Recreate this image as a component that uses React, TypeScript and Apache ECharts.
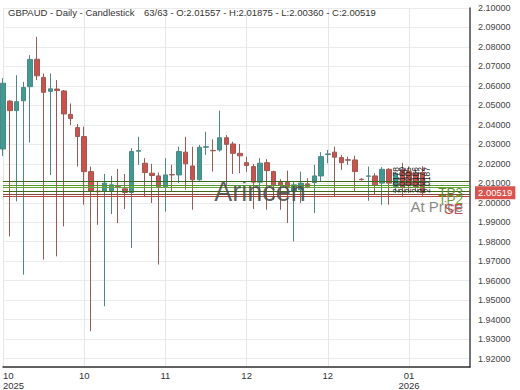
import React, { useEffect, useRef } from "react";
import * as echarts from "echarts";

const DATES = [
  "2025-10-09","2025-10-10","2025-10-13","2025-10-14","2025-10-15","2025-10-16","2025-10-17","2025-10-20","2025-10-21","2025-10-22",
  "2025-10-23","2025-10-24","2025-10-27","2025-10-28","2025-10-29","2025-10-30","2025-10-31","2025-11-03","2025-11-04","2025-11-05",
  "2025-11-06","2025-11-07","2025-11-10","2025-11-11","2025-11-12","2025-11-13","2025-11-14","2025-11-17","2025-11-18","2025-11-19",
  "2025-11-20","2025-11-21","2025-11-24","2025-11-25","2025-11-26","2025-11-27","2025-11-28","2025-12-01","2025-12-02","2025-12-03",
  "2025-12-04","2025-12-05","2025-12-08","2025-12-09","2025-12-10","2025-12-11","2025-12-12","2025-12-15","2025-12-16","2025-12-17",
  "2025-12-18","2025-12-19","2025-12-22","2025-12-23","2025-12-24","2025-12-25","2025-12-26","2025-12-29","2025-12-30","2025-12-31",
  "2026-01-01","2026-01-02","2026-01-05",
];
const EMPTY_SLOTS = ["", "", "", "", "", "", ""];

const OPEN = [
  2.0276, 2.0522, 2.0473, 2.0524, 2.0596, 2.0737, 2.0644, 2.0572, 2.0584, 2.0574,
  2.0454, 2.0386, 2.0340, 2.0160, 2.0060, 2.0061, 2.0063, 2.0088, 2.0072, 2.0053,
  2.0265, 2.0203, 2.0152, 2.0138, 2.0083, 2.0145, 2.0143, 2.0260, 2.0189, 2.0118,
  2.0285, 2.0269, 2.0271, 2.0334, 2.0302, 2.0254, 2.0206, 2.0186, 2.0106, 2.0206,
  2.0160, 2.0104, 2.0104, 2.0058, 2.0067, 2.0097, 2.0104, 2.0138, 2.0248, 2.0260,
  2.0232, 2.0221, 2.0220, 2.0121, 2.0136, 2.0138, 2.0101, 2.0172, 2.0083, 2.0170,
  2.0160, 2.0152, 2.01557,
];
const CLOSE = [
  2.0614, 2.0473, 2.0519, 2.0592, 2.0736, 2.0652, 2.0567, 2.0585, 2.0577, 2.0456,
  2.0432, 2.0340, 2.0160, 2.0061, 2.0057, 2.0101, 2.0092, 2.0083, 2.0053, 2.0263,
  2.0268, 2.0155, 2.0140, 2.0083, 2.0143, 2.0143, 2.0263, 2.0200, 2.0118, 2.0285,
  2.0288, 2.0267, 2.0334, 2.0300, 2.0254, 2.0241, 2.0191, 2.0106, 2.0203, 2.0165,
  2.0092, 2.0092, 2.0083, 2.0092, 2.0101, 2.0083, 2.0138, 2.0237, 2.0251, 2.0234,
  2.0206, 2.0219, 2.0160, 2.0119, 2.0138, 2.0092, 2.0172, 2.0101, 2.0152, 2.0078,
  2.0090, 2.0083, 2.00519,
];
const LOW = [
  2.0240, 1.9827, 2.0007, 1.9631, 2.0309, 2.0630, 1.9708, 2.0143, 1.9725, 1.9879,
  2.0399, 2.0186, 1.9990, 1.9341, 1.9887, 1.9469, 1.9942, 1.9896, 1.9968, 1.9768,
  2.0195, 2.0032, 1.9999, 1.9683, 1.9955, 2.0058, 2.0101, 2.0067, 1.9964, 2.0114,
  2.0246, 2.0160, 2.0263, 2.0083, 2.0148, 2.0152, 2.0160, 1.9968, 2.0015, 1.9964,
  2.0015, 1.9964, 1.9896, 1.9802, 1.9999, 2.0075, 1.9947, 2.0109, 2.0203, 2.0032,
  2.0169, 2.0195, 2.0058, 2.0114, 2.0010, 2.0041, 1.9990, 1.9990, 2.0050, 2.0029,
  2.0050, 2.0060, 2.00360,
];
const HIGH = [
  2.0640, 2.0527, 2.0655, 2.0621, 2.0758, 2.0852, 2.0664, 2.0664, 2.0630, 2.0579,
  2.0510, 2.0404, 2.0391, 2.0186, 2.0109, 2.0148, 2.0138, 2.0174, 2.0148, 2.0280,
  2.0339, 2.0229, 2.0200, 2.0155, 2.0229, 2.0195, 2.0288, 2.0339, 2.0288, 2.0297,
  2.0365, 2.0326, 2.0473, 2.0348, 2.0314, 2.0302, 2.0237, 2.0200, 2.0229, 2.0224,
  2.0165, 2.0121, 2.0165, 2.0109, 2.0160, 2.0126, 2.0195, 2.0260, 2.0271, 2.0288,
  2.0246, 2.0237, 2.0242, 2.0126, 2.0186, 2.0152, 2.0183, 2.0178, 2.0160, 2.0205,
  2.0186, 2.0172, 2.01875,
];

const TICK_LABELS: Record<number, string> = {
  0: "10\n2025",
  12: "10",
  24: "11",
  36: "12",
  48: "12",
  60: "01\n2026",
};

const LEVELS = [2.0111, 2.0091, 2.0078, 2.0061, 2.0046, 2.0032];
const LEVEL_COLORS = ["#3d6a1a", "#56962a", "#66a637", "#3d6a1a", "#8a4a38", "#b5473f"];
const LAST_CLOSE = 2.00519;
const Y_MIN = 1.9157;
const Y_MAX = 2.1;

const TITLE_LEFT = "GBPAUD - Daily - Candlestick";
const TITLE_RIGHT = "63/63 - O:2.01557 - H:2.01875 - L:2.00360 - C:2.00519";
const WATERMARK = "Arincen";

const FONT = "'Liberation Sans', Arial, sans-serif";

export default function App() {
  const ref = useRef<HTMLDivElement | null>(null);

  useEffect(() => {
    if (!ref.current) return;
    const chart = echarts.init(ref.current, undefined, { renderer: "svg" });
    const categories = DATES.concat(EMPTY_SLOTS);
    const candles = OPEN.map((o, i) => [o, CLOSE[i], LOW[i], HIGH[i]]);
    const showTick = (i: number) => TICK_LABELS[i] !== undefined;

    const levelLines = LEVELS.map((v, i) => ({
      yAxis: v,
      lineStyle: { color: LEVEL_COLORS[i], width: 1, type: "solid" },
      label: { show: false },
    }));

    const lastStart = OPEN.length - 6;
    const vertTexts = HIGH.slice(lastStart).map((h, k) => ({
      type: "text",
      x: 396 + k * 6.2,
      y: 180,
      rotation: Math.PI / 2,
      z: 20,
      style: {
        text: h.toFixed(4),
        fontSize: 8.5,
        fontFamily: FONT,
        fill: "#222",
        align: "center",
        verticalAlign: "middle",
      },
    }));

    chart.setOption({
      animation: false,
      textStyle: { fontFamily: FONT },
      title: [
        {
          text: TITLE_LEFT,
          left: 8,
          top: 7,
          padding: 0,
          textStyle: { fontSize: 9.5, fontWeight: "normal", color: "#333", fontFamily: FONT },
        },
        {
          text: TITLE_RIGHT,
          left: 144,
          top: 7,
          padding: 0,
          textStyle: { fontSize: 9.5, fontWeight: "normal", color: "#333", fontFamily: FONT },
        },
      ],
      grid: { left: 3, right: 50, top: 8, bottom: 22, containLabel: false },
      xAxis: {
        type: "category",
        data: categories,
        boundaryGap: false,
        axisLine: { show: true, lineStyle: { color: "#333", width: 1.5 } },
        axisTick: { show: false },
        axisLabel: {
          interval: (i: number) => showTick(i),
          formatter: (_v: string, i: number) => TICK_LABELS[i] ?? "",
          fontSize: 9.5,
          lineHeight: 10,
          color: "#333",
          margin: 3,
          alignMinLabel: "left",
        },
        splitLine: {
          show: true,
          interval: (i: number) => showTick(i),
          lineStyle: { color: "#e6e6e6", width: 1 },
        },
      },
      yAxis: {
        type: "value",
        position: "right",
        min: Y_MIN,
        max: Y_MAX,
        splitNumber: 18,
        scale: true,
        axisLine: { show: true, lineStyle: { color: "#444", width: 1.5 } },
        axisTick: { show: false },
        axisLabel: {
          showMinLabel: false,
          formatter: (v: number) => v.toFixed(5),
          fontSize: 9,
          color: "#444",
          margin: 8,
        },
        splitLine: { show: true, lineStyle: { color: "#ebebeb", width: 1 } },
      },
      graphic: [
        {
          type: "text",
          x: 260,
          y: 192,
          z: 20,
          style: {
            text: WATERMARK,
            fontSize: 27,
            fontFamily: FONT,
            fill: "rgba(75,75,75,0.88)",
            align: "center",
            verticalAlign: "middle",
          },
        },
        {
          type: "text",
          x: 463,
          y: 206,
          z: 20,
          style: { text: "At Price", fontSize: 15, fontFamily: FONT, fill: "#8a8a8a", align: "right", verticalAlign: "middle" },
        },
        {
          type: "text",
          x: 463,
          y: 192,
          z: 21,
          style: { text: "TP3", fontSize: 13.5, fontFamily: FONT, fill: "#5b8a2d", align: "right", verticalAlign: "middle" },
        },
        {
          type: "text",
          x: 463,
          y: 199,
          z: 21,
          style: { text: "TP2", fontSize: 13.5, fontFamily: FONT, fill: "#6f9c3a", align: "right", verticalAlign: "middle" },
        },
        {
          type: "text",
          x: 463,
          y: 209,
          z: 22,
          style: { text: "SE", fontSize: 14, fontFamily: FONT, fill: "#c0504d", align: "right", verticalAlign: "middle" },
        },
        ...vertTexts,
      ],
      series: [
        {
          type: "candlestick",
          data: candles,
          barWidth: 5,
          clip: false,
          silent: true,
          itemStyle: {
            color: "#3f9a94",
            color0: "#c9524d",
            borderColor: "#4f8784",
            borderColor0: "#9c5a55",
            borderWidth: 1,
          },
          markLine: {
            silent: true,
            symbol: ["none", "none"],
            precision: 5,
            animation: false,
            data: [
              ...levelLines,
              {
                yAxis: LAST_CLOSE,
                lineStyle: { color: "rgba(0,0,0,0)", width: 1 },
                label: {
                  show: true,
                  position: "end",
                  formatter: LAST_CLOSE.toFixed(5),
                  backgroundColor: "#d9534f",
                  color: "#fff",
                  padding: [2, 3, 1, 3],
                  fontSize: 9.5,
                  fontFamily: FONT,
                  distance: 5,
                },
              },
            ],
          },
        },
      ],
    });

    return () => chart.dispose();
  }, []);

  return (
    <div
      ref={ref}
      style={{ position: "fixed", left: 0, top: 0, width: 520, height: 390, background: "#fff" }}
    />
  );
}
